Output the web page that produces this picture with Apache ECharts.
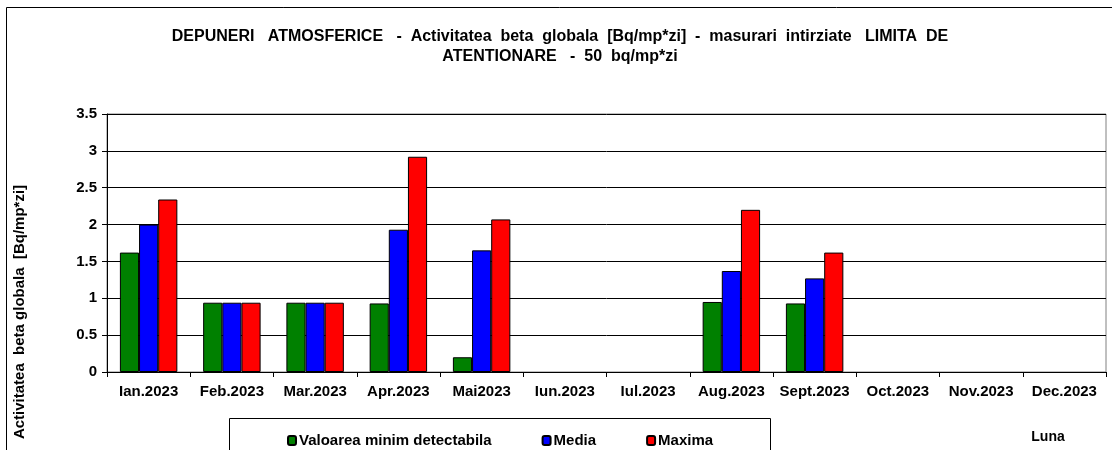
<!DOCTYPE html>
<html>
<head>
<meta charset="utf-8">
<script src="https://cdn.jsdelivr.net/npm/echarts@6/dist/echarts.min.js"></script>
<style>
  html, body { margin: 0; padding: 0; background: #fff; }
  #chart { width: 1112px; height: 450px; }
</style>
</head>
<body>
<div id="chart"></div>
<script>
// luni
var luni = ['Ian.2023', 'Feb.2023', 'Mar.2023', 'Apr.2023', 'Mai2023', 'Iun.2023',
  'Iul.2023', 'Aug.2023', 'Sept.2023', 'Oct.2023', 'Nov.2023', 'Dec.2023']
// valori (Bq/mp*zi)
var valMinDetect = [1.62, 0.94, 0.94, 0.93, 0.2, null, null, 0.95, 0.93, null, null, null]
var media = [2.0, 0.94, 0.94, 1.93, 1.65, null, null, 1.37, 1.27, null, null, null]
var maxima = [2.34, 0.94, 0.94, 2.92, 2.07, null, null, 2.2, 1.62, null, null, null]

var font = 'Arial, "Liberation Sans", sans-serif'

var myChart = echarts.init(document.getElementById('chart'))
myChart.setOption({
  animation: false,
  backgroundColor: '#fff',
  textStyle: { fontFamily: font },
  title: {
    text: 'DEPUNERI   ATMOSFERICE   -  Activitatea  beta  globala  [Bq/mp*zi]  -  masurari  intirziate   LIMITA  DE\nATENTIONARE   -  50  bq/mp*zi',
    left: 555,
    top: 22,
    textAlign: 'center',
    textStyle: { fontSize: 16, fontWeight: 'bold', color: '#000', lineHeight: 20, fontFamily: font }
  },
  grid: {
    left: 107,
    right: 6,
    top: 114,
    bottom: 78,
    show: true,
    borderColor: '#808080',
    borderWidth: 1
  },
  legend: {
    left: 282,
    top: 428,
    itemWidth: 8,
    itemHeight: 9,
    itemGap: 50,
    textStyle: { fontSize: 15, fontWeight: 'bold', color: '#000', fontFamily: font, padding: [0, 0, 0, -2] },
    data: ['Valoarea minim detectabila', 'Media', 'Maxima']
  },
  xAxis: {
    type: 'category',
    data: luni,
    axisLine: { lineStyle: { color: '#000', width: 1 } },
    axisTick: { show: true, alignWithLabel: false, length: 5, lineStyle: { color: '#000' } },
    axisLabel: { color: '#000', fontSize: 15, fontWeight: 'bold', margin: 12, interval: 0, fontFamily: font }
  },
  yAxis: {
    type: 'value',
    min: 0,
    max: 3.5,
    interval: 0.5,
    axisLine: { show: true, lineStyle: { color: '#000', width: 1 } },
    axisTick: { show: true, length: 5, lineStyle: { color: '#000' } },
    axisLabel: { color: '#000', fontSize: 15, fontWeight: 'bold', margin: 10, fontFamily: font },
    splitLine: { lineStyle: { color: '#000', width: 1 } }
  },
  graphic: [
    {
      type: 'rect',
      shape: { x: 6.5, y: 7.5, width: 1200, height: 500 },
      style: { fill: null, stroke: '#000', lineWidth: 1 },
      silent: true,
      z: -1
    },
    {
      type: 'rect',
      shape: { x: 229.5, y: 418.5, width: 541, height: 60 },
      style: { fill: null, stroke: '#000', lineWidth: 1 },
      silent: true
    },
    {
      type: 'text',
      x: 20,
      y: 312,
      rotation: Math.PI / 2,
      style: {
        text: 'Activitatea  beta globala  [Bq/mp*zi]',
        font: 'bold 15px ' + font,
        fill: '#000',
        align: 'center',
        verticalAlign: 'middle'
      }
    },
    {
      type: 'text',
      x: 1048,
      y: 437,
      style: {
        text: 'Luna',
        font: 'bold 14px ' + font,
        fill: '#000',
        align: 'center',
        verticalAlign: 'middle'
      }
    }
  ],
  series: [
    {
      name: 'Valoarea minim detectabila',
      type: 'bar',
      color: '#008000',
      barGap: '0%',
      barCategoryGap: '31%',
      itemStyle: { borderColor: '#000', borderWidth: 1 },
      data: valMinDetect
    },
    {
      name: 'Media',
      type: 'bar',
      color: '#0000ff',
      itemStyle: { borderColor: '#000', borderWidth: 1 },
      data: media
    },
    {
      name: 'Maxima',
      type: 'bar',
      color: '#ff0000',
      itemStyle: { borderColor: '#000', borderWidth: 1 },
      data: maxima
    }
  ]
})
</script>
</body>
</html>
